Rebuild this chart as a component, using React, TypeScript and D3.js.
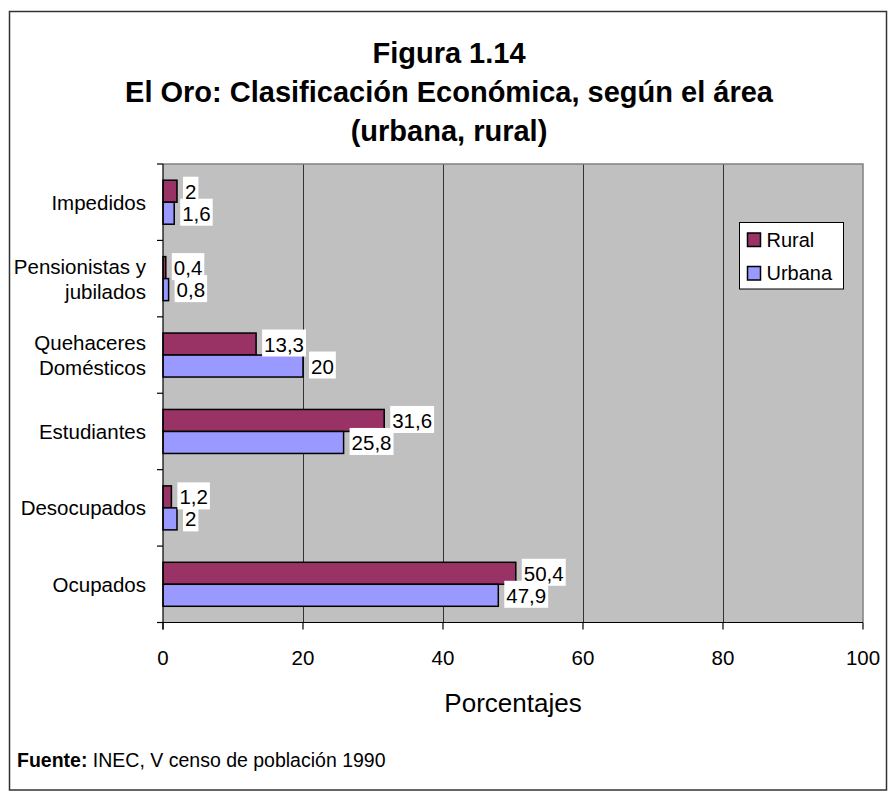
import React, { useEffect, useRef } from "react";
import * as d3 from "d3";

const categories = [
  "Impedidos",
  "Pensionistas y jubilados",
  "Quehaceres Domésticos",
  "Estudiantes",
  "Desocupados",
  "Ocupados",
];
const categoryLines = [
  ["Impedidos"],
  ["Pensionistas y", "jubilados"],
  ["Quehaceres", "Domésticos"],
  ["Estudiantes"],
  ["Desocupados"],
  ["Ocupados"],
];
const seriesNames = ["Rural", "Urbana"];
const ruralValues = [2, 0.4, 13.3, 31.6, 1.2, 50.4];
const urbanaValues = [1.6, 0.8, 20, 25.8, 2, 47.9];
const xTicks = [0, 20, 40, 60, 80, 100];
const titleLines = [
  "Figura 1.14",
  "El Oro: Clasificación Económica, según el área",
  "(urbana, rural)",
];

const W = 891;
const H = 794;
const FONT = "Arial, 'Liberation Sans', Helvetica, sans-serif";
const COLORS = ["#993366", "#9999FF"];

export default function App() {
  const ref = useRef<SVGSVGElement | null>(null);

  useEffect(() => {
    const svg = d3.select(ref.current);
    svg.selectAll("*").remove();

    const left = 163,
      right = 863,
      top = 164,
      bottom = 622.5;

    // outer border
    svg
      .append("rect")
      .attr("x", 9.5)
      .attr("y", 11.5)
      .attr("width", 877)
      .attr("height", 778.5)
      .attr("fill", "#fff")
      .attr("stroke", "#333")
      .attr("stroke-width", 1.5);

    // title
    const t = svg
      .append("text")
      .attr("font-family", FONT)
      .attr("font-weight", "bold")
      .attr("font-size", 29)
      .attr("text-anchor", "middle")
      .attr("fill", "#000");
    const baselines = [63, 102, 141];
    titleLines.forEach((l, i) => {
      t.append("tspan").attr("x", 449).attr("y", baselines[i]).text(l);
    });

    const x = d3.scaleLinear().domain([0, 100]).range([left, right]);
    const y = d3.scaleBand<string>().domain(categories).range([top, bottom]).padding(0);
    const bw = y.bandwidth();
    const barH = 22;
    const inner = d3
      .scaleBand<string>()
      .domain(seriesNames)
      .range([bw / 2 - barH, bw / 2 + barH])
      .padding(0);

    // plot background
    svg
      .append("rect")
      .attr("x", left)
      .attr("y", top)
      .attr("width", right - left)
      .attr("height", bottom - top)
      .attr("fill", "#C0C0C0");

    // gridlines
    svg
      .append("g")
      .selectAll("line")
      .data(xTicks.filter((d) => d > 0 && d < 100))
      .join("line")
      .attr("x1", (d) => x(d) + 0.5)
      .attr("x2", (d) => x(d) + 0.5)
      .attr("y1", top)
      .attr("y2", bottom)
      .attr("stroke", "#333")
      .attr("stroke-width", 1);

    // plot border top/right
    svg
      .append("path")
      .attr("d", `M${left},${top}H${right}V${bottom}`)
      .attr("fill", "none")
      .attr("stroke", "#808080")
      .attr("stroke-width", 1.5);

    // bars
    const data = categories.flatMap((c, i) => [
      { c, s: "Rural", v: ruralValues[i], k: 0 },
      { c, s: "Urbana", v: urbanaValues[i], k: 1 },
    ]);

    svg
      .append("g")
      .selectAll("rect")
      .data(data)
      .join("rect")
      .attr("x", left)
      .attr("y", (d) => (y(d.c) as number) + (inner(d.s) as number))
      .attr("width", (d) => x(d.v) - left)
      .attr("height", inner.bandwidth())
      .attr("fill", (d) => COLORS[d.k])
      .attr("stroke", "#000")
      .attr("stroke-width", 1.5);

    // axes lines
    svg
      .append("line")
      .attr("x1", left)
      .attr("x2", left)
      .attr("y1", top)
      .attr("y2", bottom + 7)
      .attr("stroke", "#000")
      .attr("stroke-width", 1.2);
    svg
      .append("line")
      .attr("x1", left - 6)
      .attr("x2", right)
      .attr("y1", bottom)
      .attr("y2", bottom)
      .attr("stroke", "#000")
      .attr("stroke-width", 1.2);

    // y ticks at band boundaries
    const bounds = categories.map((c) => y(c) as number).concat([bottom]);
    svg
      .append("g")
      .selectAll("line")
      .data(bounds)
      .join("line")
      .attr("x1", left - 6)
      .attr("x2", left)
      .attr("y1", (d) => d)
      .attr("y2", (d) => d)
      .attr("stroke", "#000")
      .attr("stroke-width", 1.2);

    // x ticks
    svg
      .append("g")
      .selectAll("line")
      .data(xTicks)
      .join("line")
      .attr("x1", (d) => x(d))
      .attr("x2", (d) => x(d))
      .attr("y1", bottom)
      .attr("y2", bottom + 7)
      .attr("stroke", "#000")
      .attr("stroke-width", 1.2);

    svg
      .append("g")
      .selectAll("text")
      .data(xTicks)
      .join("text")
      .attr("x", (d) => x(d))
      .attr("y", 665)
      .attr("text-anchor", "middle")
      .attr("font-family", FONT)
      .attr("font-size", 20.5)
      .text((d) => String(d));

    // x axis title
    svg
      .append("text")
      .attr("x", (left + right) / 2)
      .attr("y", 712)
      .attr("text-anchor", "middle")
      .attr("font-family", FONT)
      .attr("font-size", 26)
      .text("Porcentajes");

    // y labels
    categories.forEach((c, i) => {
      const lines = categoryLines[i];
      const cy = (y(c) as number) + bw / 2;
      const lh = 25;
      const start = cy - ((lines.length - 1) * lh) / 2 + 7.5;
      const tx = svg
        .append("text")
        .attr("text-anchor", "end")
        .attr("font-family", FONT)
        .attr("font-size", 20.5);
      lines.forEach((l, j) => {
        tx.append("tspan").attr("x", 146).attr("y", start + j * lh).text(l);
      });
    });

    // data labels: backgrounds first, then texts
    const bgLayer = svg.append("g");
    const txtLayer = svg.append("g");
    data.forEach((d) => {
      const cy = (y(d.c) as number) + (inner(d.s) as number) + inner.bandwidth() / 2;
      const bx = x(d.v) + 6;
      const bg = bgLayer.append("rect").attr("fill", "#fff");
      const txt = txtLayer
        .append("text")
        .attr("x", bx + 2)
        .attr("y", cy + 7.5)
        .attr("font-family", FONT)
        .attr("font-size", 20.5)
        .text(String(d.v).replace(".", ","));
      const w = (txt.node() as SVGTextElement).getComputedTextLength();
      bg.attr("x", bx)
        .attr("y", cy - 14.5)
        .attr("width", w + 4)
        .attr("height", 27);
    });

    // legend
    const legX = 739.5,
      legY = 222.5;
    svg
      .append("rect")
      .attr("x", legX)
      .attr("y", legY)
      .attr("width", 104)
      .attr("height", 66.5)
      .attr("fill", "#fff")
      .attr("stroke", "#000")
      .attr("stroke-width", 1);
    seriesNames.forEach((s, i) => {
      const yy = 233 + i * 33.5;
      svg
        .append("rect")
        .attr("x", 747.5)
        .attr("y", yy)
        .attr("width", 13)
        .attr("height", 13.5)
        .attr("fill", COLORS[i])
        .attr("stroke", "#000")
        .attr("stroke-width", 1.5);
      svg
        .append("text")
        .attr("x", 766.5)
        .attr("y", yy + 13.5)
        .attr("font-family", FONT)
        .attr("font-size", 20)
        .text(s);
    });

    // source
    const src = svg
      .append("text")
      .attr("x", 17)
      .attr("y", 767)
      .attr("font-family", FONT)
      .attr("font-size", 19.5);
    src.append("tspan").attr("font-weight", "bold").text("Fuente:");
    src.append("tspan").text(" INEC, V censo de población 1990");
  }, []);

  return (
    <svg
      ref={ref}
      width={W}
      height={H}
      style={{ position: "absolute", left: 0, top: 0, background: "#fff" }}
    />
  );
}
